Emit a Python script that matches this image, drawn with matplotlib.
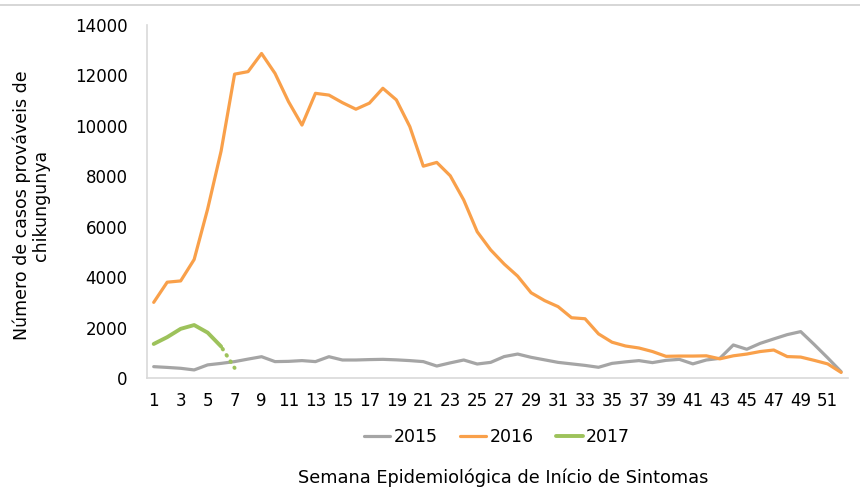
import matplotlib
matplotlib.use('Agg')
import matplotlib.pyplot as plt
from matplotlib.lines import Line2D

#--------------------------------------------------------------------------------------------------
# DADOS
#--------------------------------------------------------------------------------------------------

semanas = list(range(1, 53))

casos_2015 = [450, 420, 385, 320, 520, 580, 650, 750, 845, 650,
              660, 690, 650, 845, 714, 714, 730, 740, 720, 690,
              650, 475, 600, 714, 555, 620, 850, 950, 820, 720,
              620, 560, 500, 425, 580, 640, 690, 610, 700, 740,
              560, 714, 780, 1310, 1140, 1375, 1550, 1720, 1840, 1330,
              800, 250]

casos_2016 = [3000, 3800, 3850, 4700, 6700, 9000, 12050, 12150, 12870, 12080,
              10960, 10030, 11290, 11220, 10920, 10660, 10900, 11490, 11030, 9970,
              8400, 8550, 8020, 7060, 5800, 5080, 4520, 4040, 3380, 3070,
              2830, 2390, 2350, 1750, 1420, 1270, 1190, 1050, 860, 870,
              870, 880, 760, 880, 950, 1050, 1110, 850, 830, 700,
              560, 220]

semanas_2017 = [1, 2, 3, 4, 5, 6, 7]
casos_2017 = [1350, 1620, 1950, 2100, 1800, 1250, 400]

cinza = '#A5A5A5'
laranja = '#F9A04A'
verde = '#9DC25B'

#--------------------------------------------------------------------------------------------------
# PLOT
#--------------------------------------------------------------------------------------------------

plt.rcParams['font.family'] = ['DejaVu Sans']

fig = plt.figure(figsize=(8.6, 4.88), dpi=100)
ax = fig.add_axes([0.1709, 0.2254, 0.815, 0.7234])

ax.plot(semanas, casos_2015, color=cinza, lw=2.3, solid_joinstyle='round', solid_capstyle='round', label='2015')
ax.plot(semanas, casos_2016, color=laranja, lw=2.3, solid_joinstyle='round', solid_capstyle='round', label='2016')
ax.plot(semanas_2017[:6], casos_2017[:6], color=verde, lw=2.8, solid_joinstyle='round', solid_capstyle='round', label='2017')
# ultimo trecho de 2017 pontilhado (dados incompletos)
ax.plot(semanas_2017[5:], casos_2017[5:], color=verde, lw=2.8, linestyle=(1.2, (0.2, 1.7)), dash_capstyle='round')

ax.set_xlim(0.5, 52.5)
ax.set_ylim(0, 14000)
ax.set_xticks(semanas[::2])
ax.set_yticks(range(0, 14001, 2000))
ax.tick_params(axis='both', length=0, labelsize=12, colors='#000000')
ax.tick_params(axis='y', pad=14)
ax.tick_params(axis='x', pad=10)

for lado in ['top', 'right']:
    ax.spines[lado].set_visible(False)
for lado in ['left', 'bottom']:
    ax.spines[lado].set_color('#D9D9D9')
    ax.spines[lado].set_linewidth(1.2)

fig.text(0.036, 0.58, 'Número de casos prováveis de\nchikungunya', rotation=90,
         ha='center', va='center', multialignment='center', fontsize=12.5, linespacing=1.05)
fig.text(0.585, 0.022, 'Semana Epidemiológica de Início de Sintomas', ha='center', va='center', fontsize=12.8)

fig.legend(loc='center', bbox_to_anchor=(0.578, 1 - 437 / 488), ncol=3, frameon=False,
           fontsize=12.5, handlelength=1.5, handletextpad=0.2, columnspacing=1.3)

fig.add_artist(Line2D([0, 1], [0.99, 0.99], color='#D0D0D0', lw=1.2))

plt.savefig('out.png', dpi=100)
